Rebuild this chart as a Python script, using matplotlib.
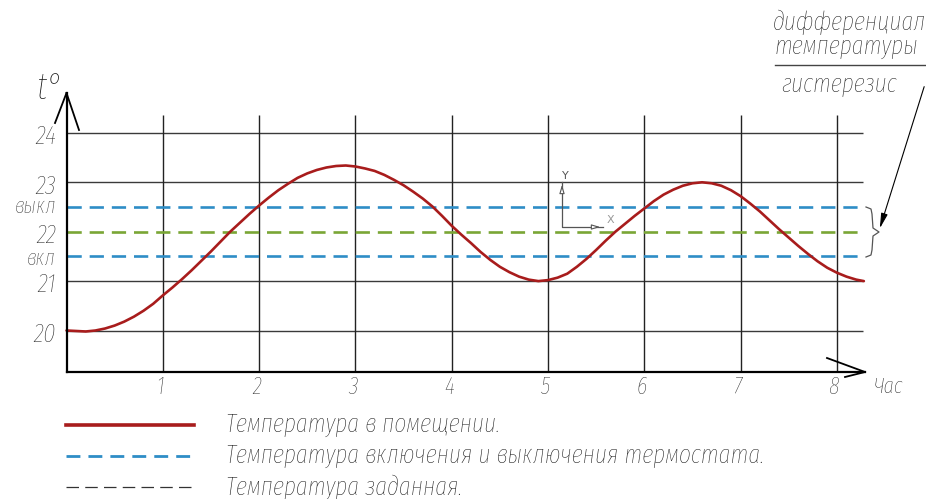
import matplotlib.pyplot as plt
import numpy as np

# hours on the x axis and the temperature grid
hours = [1, 2, 3, 4, 5, 6, 7, 8]
y_ticks = [20, 21, 22, 23, 24]
grid_levels = [20, 21, 23, 24]

# thermostat levels
t_off = 22.5
t_set = 22.0
t_on = 21.5

# room temperature
time = [0.0, 0.1, 0.2, 0.3, 0.4, 0.5, 0.6, 0.7, 0.8, 0.9,
        1.0, 1.1, 1.2, 1.3, 1.4, 1.5, 1.6, 1.7, 1.8, 1.9,
        2.0, 2.1, 2.2, 2.3, 2.4, 2.5, 2.6, 2.7, 2.8, 2.9,
        3.0, 3.1, 3.2, 3.3, 3.4, 3.5, 3.6, 3.7, 3.8, 3.9,
        4.0, 4.1, 4.2, 4.3, 4.4, 4.5, 4.6, 4.7, 4.8, 4.9,
        5.0, 5.1, 5.2, 5.3, 5.4, 5.5, 5.6, 5.7, 5.8, 5.9,
        6.0, 6.1, 6.2, 6.3, 6.4, 6.5, 6.6, 6.7, 6.8, 6.9,
        7.0, 7.1, 7.2, 7.3, 7.4, 7.5, 7.6, 7.7, 7.8, 7.9,
        8.0, 8.1, 8.2, 8.28]
temp = [20.00, 19.99, 19.98, 20.00, 20.04, 20.10, 20.18, 20.28, 20.40, 20.54,
        20.71, 20.87, 21.04, 21.22, 21.41, 21.60, 21.80, 22.00, 22.18, 22.36,
        22.53, 22.69, 22.84, 22.97, 23.09, 23.18, 23.25, 23.30, 23.33, 23.34,
        23.32, 23.28, 23.23, 23.15, 23.05, 22.94, 22.81, 22.67, 22.51, 22.32,
        22.12, 21.94, 21.77, 21.59, 21.43, 21.29, 21.18, 21.09, 21.03, 21.00,
        21.02, 21.07, 21.15, 21.29, 21.45, 21.63, 21.82, 22.00, 22.16, 22.32,
        22.47, 22.62, 22.75, 22.85, 22.93, 22.98, 23.00, 22.98, 22.93, 22.84,
        22.72, 22.57, 22.41, 22.23, 22.05, 21.88, 21.71, 21.55, 21.40, 21.27,
        21.17, 21.09, 21.03, 21.00]

legend_labels = ['Температура в помещении.',
                 'Температура включения и выключения термостата.',
                 'Температура заданная.']

W, H = 926, 499
FONT = ['Fira Sans Extra Condensed', 'DejaVu Sans']
RED = '#a81c1c'
BLUE = '#2e8dc6'
GREEN = '#7aa635'
TXT = '#151515'
TICK = '#2a2a2a'

# pixel -> data mapping of the drawing
x0_px, hour_px = 66.5, 96.3
y20_px, deg_px = 330.5, 49.4


def px(x, y):
    return (x - x0_px) / hour_px, 20 + (y20_px - y) / deg_px


def label(xy, s, size, color=TXT, **kw):
    ax.text(*xy, s, fontsize=size, family=FONT, style='italic', weight='light', color=color, **kw)


fig = plt.figure(figsize=(W / 100, H / 100), dpi=100)
ax = fig.add_axes([0, 0, 1, 1])
ax.set_xlim(px(0, 0)[0], px(W, 0)[0])
ax.set_ylim(px(0, H)[1], px(0, 0)[1])
ax.axis('off')

x_end = px(863, 0)[0]
y_base = px(0, 372)[1]
y_grid_top = px(0, 115)[1]

# grid
ax.hlines(grid_levels, 0, x_end, color='#3a3a3a', lw=1.0, zorder=1)
ax.vlines(hours, y_base, y_grid_top, color='#222222', lw=1.0, zorder=1)

# thermostat levels
dash = (0, (5.4, 3.0))
ax.plot([0, x_end], [t_off, t_off], color=BLUE, lw=1.9, ls=dash, zorder=2)
ax.plot([0, x_end], [t_on, t_on], color=BLUE, lw=1.9, ls=dash, zorder=2)
ax.plot([0, x_end], [t_set, t_set], color=GREEN, lw=1.9, ls=dash, zorder=2)

# room temperature
ax.plot(time, temp, color=RED, lw=1.9, solid_capstyle='round', solid_joinstyle='round', zorder=3)

# axes with open arrows
tip_x = px(865, 372)
ax.plot([0, tip_x[0]], [y_base, y_base], color='black', lw=1.6, zorder=4)
for wx, wy in [(827, 358), (845, 377)]:
    w = px(wx, wy)
    ax.plot([w[0], tip_x[0]], [w[1], tip_x[1]], color='black', lw=1.3, zorder=4)
tip_y = px(66.5, 93)
ax.plot([0, 0], [y_base, tip_y[1]], color='black', lw=1.6, zorder=4)
for wx, wy in [(55, 123), (79, 130)]:
    w = px(wx, wy)
    ax.plot([w[0], tip_y[0]], [w[1], tip_y[1]], color='black', lw=1.3, zorder=4)

# tick labels
lab_x = px(56, 0)[0]
for v in y_ticks:
    label((lab_x, v - 0.08), str(v), 19, TICK, ha='right', va='center')
label((lab_x, t_off), 'выкл', 16, TICK, ha='right', va='center')
label((lab_x, t_on - 0.05), 'вкл', 16, TICK, ha='right', va='center')
lab_y = px(0, 387)[1]
for h in hours:
    label((h - 0.03, lab_y), str(h), 17, TICK, ha='center', va='center')

label(px(888, 387), 'Час', 16, ha='center', va='center')
label(px(50, 106), 't°', 27, ha='center', va='bottom')

# small UCS icon
ucs_o = px(562, 227)
ucs_y = px(562, 182)
ucs_x = px(603, 227)
ax.plot([ucs_y[0], ucs_o[0], ucs_x[0]], [ucs_y[1], ucs_o[1], ucs_x[1]], color='#555555', lw=0.9, zorder=2)
ax.annotate('', xy=ucs_y, xytext=px(562, 192),
            arrowprops=dict(arrowstyle='-|>,head_width=0.15,head_length=0.5', color='#555555', lw=0.8, fc='white'))
ax.annotate('', xy=ucs_x, xytext=px(592, 227),
            arrowprops=dict(arrowstyle='-|>,head_width=0.15,head_length=0.5', color='#555555', lw=0.8, fc='white'))
ax.text(*px(565, 176), 'Y', ha='center', va='center', fontsize=8, color='#555555')
ax.text(*px(610, 220), 'X', ha='center', va='center', fontsize=8, color='#999999')

# brace and leader
bx = [866, 871, 872, 873, 879, 873, 872, 871, 866]
by = [207, 209, 214, 228, 232, 236, 250, 255, 257]
b = np.array([px(x, y) for x, y in zip(bx, by)])
ax.plot(b[:, 0], b[:, 1], color='#555555', lw=0.9, zorder=2)
ax.annotate('', xy=px(879, 231), xytext=px(925, 84),
            arrowprops=dict(arrowstyle='-|>,head_width=0.2,head_length=0.9', color='black', lw=0.8))

label(px(926, 22), 'дифференциал', 18.5, ha='right', va='center')
label(px(918, 47), 'температуры', 18.5, ha='right', va='center')
l1, l2 = px(775, 65), px(926, 65)
ax.plot([l1[0], l2[0]], [l1[1], l2[1]], color='#444444', lw=1.0)
label(px(781, 84), 'гистерезис', 18.5, ha='left', va='center')

# legend drawn below the chart
handles = [dict(color=RED, lw=2.6, ls='-'),
           dict(color=BLUE, lw=2.0, ls=(0, (5.0, 2.9))),
           dict(color='#333333', lw=0.9, ls=(0, (10.0, 5.0)))]
for i, (hs, text) in enumerate(zip(handles, legend_labels)):
    yy = 425 + i * 31
    a, c = px(66, yy), px(194, yy)
    ax.plot([a[0], c[0]], [a[1], c[1]], **hs)
    label(px(226, yy), text, 18.5, ha='left', va='center')

fig.savefig('out.png', dpi=100)
